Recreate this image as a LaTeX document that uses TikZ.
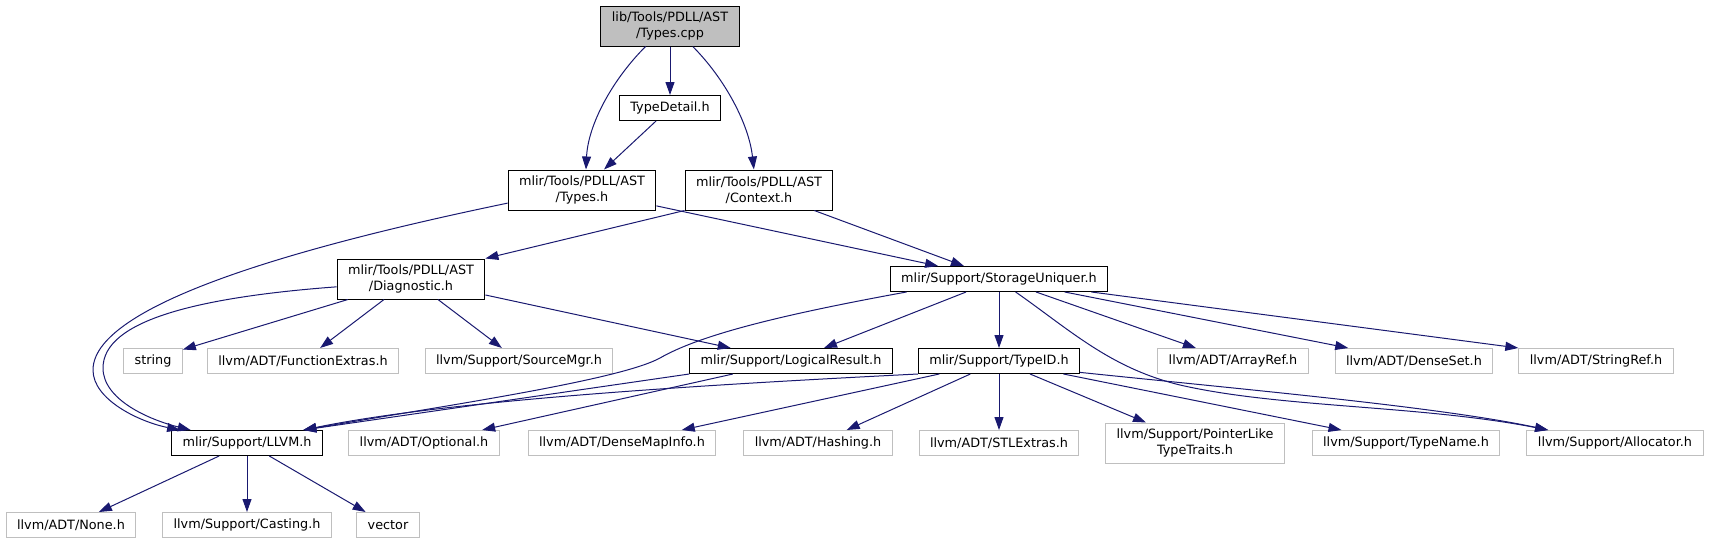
\documentclass[tikz,border=0pt]{standalone}
\usepackage{fontspec}
\setmainfont{DejaVu Sans}
\usetikzlibrary{arrows.meta}
\definecolor{blunotte}{HTML}{191970}
\definecolor{grigio}{HTML}{BFBFBF}

\begin{document}
\begin{tikzpicture}[x=1pt, y=-1pt,
    font=\fontsize{12.8}{16.5}\selectfont,
    file/.style={draw=black, line width=1pt, inner xsep=11pt, inner ysep=0pt,
        minimum height=25pt, align=center},
    esterno/.style={file, draw=grigio},
    radice/.style={file, fill=grigio},
    doppio/.style={minimum height=40pt},
    dip/.style={draw=blunotte, line width=1pt, -{Triangle[length=13pt,width=9pt]}}]

    \useasboundingbox (0,0) rectangle (1710,544);

    % Nodi
    \node[radice, doppio] (cpp) at (670,26) {lib/Tools/PDLL/AST\\/Types.cpp};
    \node[file] (detail) at (670,108) {TypeDetail.h};
    \node[file, doppio] (typesh) at (582,190) {mlir/Tools/PDLL/AST\\/Types.h};
    \node[file, doppio] (context) at (759,190) {mlir/Tools/PDLL/AST\\/Context.h};
    \node[file, doppio] (diag) at (411,279) {mlir/Tools/PDLL/AST\\/Diagnostic.h};
    \node[file] (storage) at (999,279) {mlir/Support/StorageUniquer.h};

    \node[esterno] (string) at (153,361) {string};
    \node[esterno] (funcext) at (303,361) {llvm/ADT/FunctionExtras.h};
    \node[esterno] (srcmgr) at (519,361) {llvm/Support/SourceMgr.h};
    \node[file] (logical) at (791,361) {mlir/Support/LogicalResult.h};
    \node[file] (typeid) at (999,361) {mlir/Support/TypeID.h};
    \node[esterno] (arrayref) at (1233,361) {llvm/ADT/ArrayRef.h};
    \node[esterno] (denseset) at (1414,361) {llvm/ADT/DenseSet.h};
    \node[esterno] (stringref) at (1596,361) {llvm/ADT/StringRef.h};

    \node[file] (llvmh) at (247,443) {mlir/Support/LLVM.h};
    \node[esterno] (optional) at (424,443) {llvm/ADT/Optional.h};
    \node[esterno] (densemap) at (622,443) {llvm/ADT/DenseMapInfo.h};
    \node[esterno] (hashing) at (818,443) {llvm/ADT/Hashing.h};
    \node[esterno] (stlextras) at (999,443) {llvm/ADT/STLExtras.h};
    \node[esterno, doppio] (ptrlike) at (1195,443) {llvm/Support/PointerLike\\TypeTraits.h};
    \node[esterno] (typename) at (1406,443) {llvm/Support/TypeName.h};
    \node[esterno] (allocator) at (1615,443) {llvm/Support/Allocator.h};

    \node[esterno] (none) at (71,525) {llvm/ADT/None.h};
    \node[esterno] (casting) at (247,525) {llvm/Support/Casting.h};
    \node[esterno] (vector) at (388,525) {vector};

    % Archi dal sorgente
    \draw[dip] (cpp.-140) .. controls (612,80) and (588,125) .. (typesh.79);
    \draw[dip] (cpp) -- (detail);
    \draw[dip] (cpp.-42) .. controls (726,80) and (749,125) .. (context.104);
    \draw[dip] (detail) -- (typesh);

    % Archi di Types.h e Context.h
    \draw[dip] (typesh.190) .. controls (330,240) and (93,300) .. (93,370)
        .. controls (93,400) and (140,422) .. (llvmh.169);
    \draw[dip] (typesh) -- (storage);
    \draw[dip] (context.south west) -- (diag.north east);
    \draw[dip] (context) -- (storage);

    % Archi di Diagnostic.h
    \draw[dip] (diag.186) .. controls (200,297) and (103,320) .. (103,368)
        .. controls (103,400) and (150,420) .. (llvmh.167);
    \draw[dip] (diag.198) -- (string.21);
    \draw[dip] (diag) -- (funcext);
    \draw[dip] (diag) -- (srcmgr);
    \draw[dip] (diag) -- (logical);

    % Archi di StorageUniquer.h
    \draw[dip] (storage.188) .. controls (780,315) and (700,335) .. (660,358)
        .. controls (620,380) and (450,405) .. (llvmh.13);
    \draw[dip] (storage) -- (logical);
    \draw[dip] (storage) -- (typeid);
    \draw[dip] (storage) -- (arrayref);
    \draw[dip] (storage) -- (denseset);
    \draw[dip] (storage.-8) -- (stringref.north west);
    \draw[dip] (storage.-38) .. controls (1070,330) and (1110,368) .. (1180,385)
        .. controls (1280,408) and (1420,405) .. (allocator.169);

    % Archi di LogicalResult.h e TypeID.h
    \draw[dip] (logical.south west) -- (llvmh.13);
    \draw[dip] (logical) -- (optional);
    \draw[dip] (typeid.south west) .. controls (700,385) and (450,400) .. (llvmh.13);
    \draw[dip] (typeid) -- (densemap);
    \draw[dip] (typeid) -- (hashing);
    \draw[dip] (typeid) -- (stlextras);
    \draw[dip] (typeid) -- (ptrlike);
    \draw[dip] (typeid) -- (typename);
    \draw[dip] (typeid.-8) .. controls (1250,390) and (1440,407) .. (allocator.169);

    % Archi di LLVM.h
    \draw[dip] (llvmh) -- (none);
    \draw[dip] (llvmh) -- (casting);
    \draw[dip] (llvmh) -- (vector);

\end{tikzpicture}
\end{document}
